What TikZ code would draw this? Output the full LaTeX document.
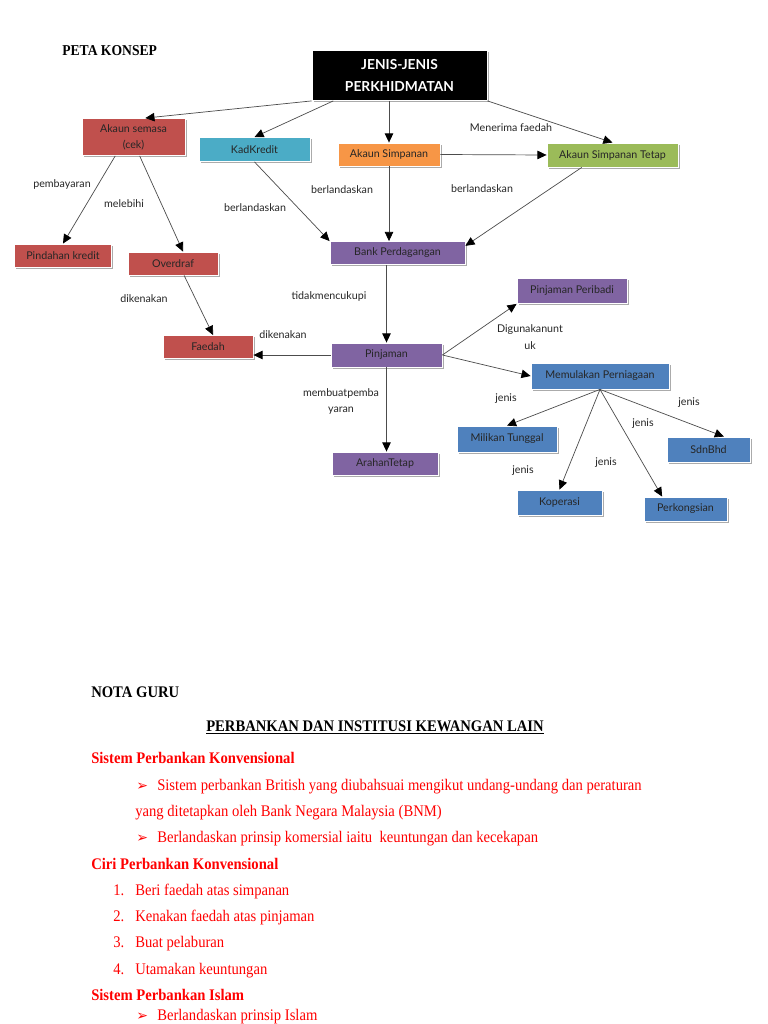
\documentclass[tikz,border=0pt]{standalone}
\usepackage{fontspec}
\setmainfont[FakeStretch=0.905]{Liberation Serif}
\newfontfamily\mapfont{Lato}
\newfontfamily\symfont{DejaVu Sans}
\usepackage{tikz}
\usetikzlibrary{arrows.meta, shadows}

\definecolor{semasared}{HTML}{C0504D}
\definecolor{kadcyan}{HTML}{4BACC6}
\definecolor{simpananorange}{HTML}{F79646}
\definecolor{tetapgreen}{HTML}{9BBB59}
\definecolor{bankpurple}{HTML}{8064A2}
\definecolor{niagablue}{HTML}{4F81BD}

\begin{document}
\begin{tikzpicture}[
            x=0.025cm, y=-0.025cm,
            concept/.style={rectangle, draw=white, line width=0.6pt, inner sep=0pt, align=center, text=black!85, font=\mapfont\fontsize{7.6}{11.4}\selectfont, drop shadow={shadow xshift=1.1pt, shadow yshift=-1.1pt, fill=black!65}},
            boxsize/.style 2 args={minimum width=#1*0.025cm, minimum height=#2*0.025cm},
            link/.style={draw=black!70, line width=0.5pt, -{Triangle[length=6.5pt, width=6pt, color=black]}},
            linklabel/.style={inner sep=0pt, align=center, text=black!85, font=\mapfont\fontsize{7.6}{12}\selectfont},
            heading/.style={anchor=base west, inner sep=0pt, font=\fontsize{11.5}{14}\selectfont\bfseries},
            note/.style={anchor=base west, inner sep=0pt, text=red, font=\fontsize{11.5}{14}\selectfont},
            pointer/.style={anchor=base west, inner sep=0pt, text=red, font=\symfont\fontsize{10}{12}\selectfont}
        ]
            \useasboundingbox[fill=white] (0,0) rectangle (768,1024);

            % peta konsep
            \node[heading, font=\fontsize{10.7}{13}\selectfont\bfseries] (peta) at (62,56) {PETA KONSEP};
            \node[concept, boxsize={175}{50}, fill=black, text=white, font=\mapfont\bfseries\fontsize{9.8}{15.6}\selectfont] (jenis) at (399.5,75.5) {JENIS-JENIS\\PERKHIDMATAN};

            \node[concept, boxsize={103}{37}, fill=semasared] (semasa) at (133.5,137) {Akaun semasa\\(cek)};
            \node[concept, boxsize={111}{24}, fill=kadcyan] (kad) at (254.5,149.5) {KadKredit};
            \node[concept, boxsize={102}{23}, fill=simpananorange] (simpanan) at (389,154.5) {Akaun Simpanan};
            \node[concept, boxsize={131}{24}, fill=tetapgreen] (tetap) at (612.5,155) {Akaun Simpanan Tetap};
            \node[concept, boxsize={97}{23}, fill=semasared] (pindahan) at (63,255.5) {Pindahan kredit};
            \node[concept, boxsize={90}{23}, fill=semasared] (overdraf) at (173,263.5) {Overdraf};
            \node[concept, boxsize={135}{23}, fill=bankpurple] (bank) at (397.5,253) {Bank Perdagangan};
            \node[concept, boxsize={90}{23}, fill=semasared] (faedah) at (208,347) {Faedah};
            \node[concept, boxsize={111}{24}, fill=bankpurple] (pinjaman) at (386.5,355) {Pinjaman};
            \node[concept, boxsize={106}{23}, fill=bankpurple] (arahan) at (385,463.5) {ArahanTetap};
            \node[concept, boxsize={110}{25}, fill=bankpurple] (peribadi) at (572,291) {Pinjaman Peribadi};
            \node[concept, boxsize={138}{26}, fill=niagablue] (memulakan) at (600,376) {Memulakan Perniagaan};
            \node[concept, boxsize={100}{26}, fill=niagablue] (milikan) at (507,439) {Milikan Tunggal};
            \node[concept, boxsize={83}{25}, fill=niagablue] (sdn) at (708.5,449.5) {SdnBhd};
            \node[concept, boxsize={85}{25}, fill=niagablue] (koperasi) at (559.5,502.5) {Koperasi};
            \node[concept, boxsize={83}{24}, fill=niagablue] (perkongsian) at (685.5,509) {Perkongsian};

            \draw[link] (jenis.south west) -- (semasa.58);
            \draw[link] (jenis.201) -- (kad.north);
            \draw[link] (simpanan.north |- jenis.south) -- (simpanan.north);
            \draw[link] (jenis.south east) -- (tetap.north);
            \draw[link] (simpanan.east) -- (tetap.west);
            \draw[link] (semasa.226) -- (pindahan.north);
            \draw[link] (semasa.-72) -- (overdraf.50);
            \draw[link] (kad.south) -- (bank.north west);
            \draw[link] (simpanan.south) -- (simpanan.south |- bank.north);
            \draw[link] (tetap.202) -- (bank.6);
            \draw[link] (overdraf.-47) -- (faedah.67);
            \draw[link] (pinjaman.north |- bank.south) -- (pinjaman.north);
            \draw[link] (pinjaman.west) -- (pinjaman.west -| faedah.east);
            \draw[link] (pinjaman.east) -- (peribadi.south west);
            \draw[link] (pinjaman.east) -- (memulakan.west);
            \draw[link] (pinjaman.south) -- (pinjaman.south |- arahan.north);
            \foreach \jenis in {milikan.north, koperasi.north, perkongsian.152, sdn.40}
                \draw[link] (memulakan.south) -- (\jenis);

            \node[linklabel] (lmenerima) at (511,128) {Menerima faedah};
            \node[linklabel] (lpembayaran) at (62,184) {pembayaran};
            \node[linklabel] (lmelebihi) at (124,204) {melebihi};
            \node[linklabel] (lkad) at (255,208) {berlandaskan};
            \node[linklabel] (lsimpanan) at (342,190) {berlandaskan};
            \node[linklabel] (ltetap) at (482,189) {berlandaskan};
            \node[linklabel] (ltidak) at (329,296) {tidakmencukupi};
            \node[linklabel] (ldikenakan) at (144,299) {dikenakan};
            \node[linklabel] (lfaedah) at (283,335) {dikenakan};
            \node[linklabel] (lbayar) at (341,401.5) {membuatpemba\\yaran};
            \node[linklabel] (lguna) at (530,337) {Digunakanunt\\uk};
            \node[linklabel] (lmilikan) at (506,399) {jenis};
            \node[linklabel] (lsdn) at (689,403) {jenis};
            \node[linklabel] (lkongsi) at (643,424) {jenis};
            \node[linklabel] (lkoperasi) at (606,463) {jenis};
            \node[linklabel] (lbawah) at (523,471) {jenis};

            % nota guru
            \node[heading] (nota) at (91,697) {NOTA GURU};
            \node[heading, anchor=base] (tajuk) at (375,731) {\underline{PERBANKAN DAN INSTITUSI KEWANGAN LAIN}};
            \node[heading, text=red] (konv) at (91,763) {Sistem Perbankan Konvensional};
            \node[pointer] (p1) at (136,790.5) {➢};
            \node[note] (konva) at (157,790.5) {Sistem perbankan British yang diubahsuai mengikut undang-undang dan peraturan};
            \node[note] (konvb) at (135,816.7) {yang ditetapkan oleh Bank Negara Malaysia (BNM)};
            \node[pointer] (p2) at (136,842.7) {➢};
            \node[note] (konvc) at (157,842.7) {Berlandaskan prinsip komersial iaitu\ \ keuntungan dan kecekapan};
            \node[heading, text=red] (ciri) at (91,869) {Ciri Perbankan Konvensional};
            \foreach \n/\y/\txt in {1/895/Beri faedah atas simpanan, 2/921/Kenakan faedah atas pinjaman, 3/947.5/Buat pelaburan, 4/974/Utamakan keuntungan} {
                \node[note] (num\n) at (113,\y) {\n.};
                \node[note] (ciri\n) at (135,\y) {\txt};
            }
            \node[heading, text=red] (islam) at (91,1000) {Sistem Perbankan Islam};
            \node[pointer] (p3) at (136,1020) {➢};
            \node[note] (islama) at (157,1020) {Berlandaskan prinsip Islam};
        \end{tikzpicture}
\end{document}
